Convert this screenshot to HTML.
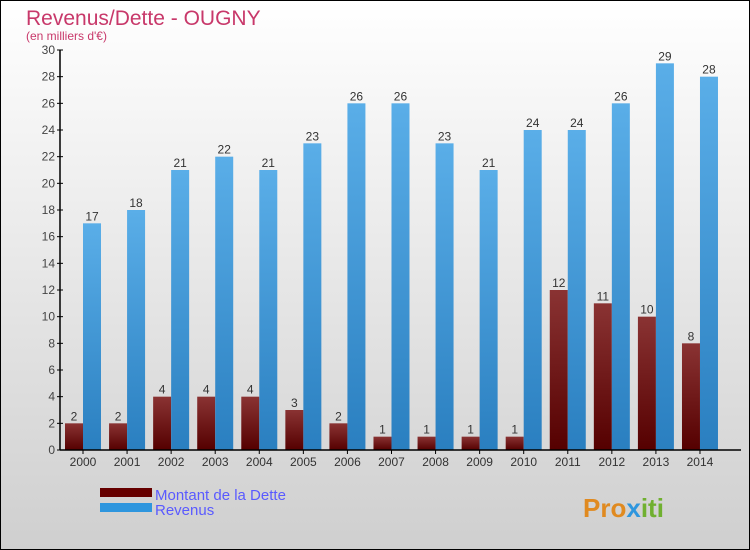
<!DOCTYPE html>
<html><head><meta charset="utf-8"><style>
body{margin:0;}
#c{width:750px;height:550px;position:relative;box-sizing:border-box;border:1px solid #000;background:linear-gradient(#ffffff,#cfcfcf);font-family:"Liberation Sans",sans-serif;overflow:hidden}
</style></head><body>
<div id="c">
<svg width="748" height="548" id="s">
<defs>
<linearGradient id="gd" x1="0" y1="0" x2="0" y2="1"><stop offset="0" stop-color="#8a3333"/><stop offset="1" stop-color="#550000"/></linearGradient>
<linearGradient id="gr" x1="0" y1="0" x2="0" y2="1"><stop offset="0" stop-color="#5aaee8"/><stop offset="1" stop-color="#2a7fc0"/></linearGradient>
</defs>
<text x="25" y="24" font-size="21" fill="#c8386a">Revenus/Dette - OUGNY</text>
<text x="25" y="39" font-size="12" fill="#c8386a">(en milliers d'€)</text>
<g id="g"></g>
<rect x="99" y="487" width="52" height="9" fill="#660000"/>
<rect x="99" y="502" width="52" height="9" fill="#2e96de"/>
<text x="154" y="499" font-size="15" fill="#5a5aff">Montant de la Dette</text>
<text x="154" y="514" font-size="15" fill="#5a5aff">Revenus</text>
<text x="582" y="516" font-size="26" font-weight="bold" fill="#e08a20">Pro<tspan fill="#2e96de">x</tspan><tspan fill="#70b030">iti</tspan></text>
</svg>
</div>
<script>
const years=["2000","2001","2002","2003","2004","2005","2006","2007","2008","2009","2010","2011","2012","2013","2014"];
const debt=[2,2,4,4,4,3,2,1,1,1,1,12,11,10,8];
const revenue=[17,18,21,22,21,23,26,26,23,21,24,24,26,29,28];
const yTicks=[0,2,4,6,8,10,12,14,16,18,20,22,24,26,28,30];
const NS="http://www.w3.org/2000/svg",g=document.getElementById('g');
const x0=59,y0=449,ppu=400/30,gw=44.07,bw=18;
const y=v=>y0-v*ppu, xc=i=>x0+23+i*gw;
function el(t,a,txt){const e=document.createElementNS(NS,t);for(const k in a)e.setAttribute(k,a[k]);if(txt!=null)e.textContent=txt;g.appendChild(e);return e;}
yTicks.forEach(t=>{const e=el('line',{x1:x0-3,x2:x0+3,y1:y(t),y2:y(t),stroke:'#000'});

const l=el('text',{x:x0-5,y:y(t)+4,'font-size':12,fill:'#444','text-anchor':'end'},t);
});
years.forEach((yr,i)=>{const c=xc(i);
const d=el('rect',{x:c-bw,y:y(debt[i]),width:bw,height:debt[i]*ppu,fill:'url(#gd)'});

const r=el('rect',{x:c,y:y(revenue[i]),width:bw,height:revenue[i]*ppu,fill:'url(#gr)'});

const dl=el('text',{x:c-bw/2,y:y(debt[i])-3,'font-size':12,fill:'#333','text-anchor':'middle'},debt[i]);

const rl=el('text',{x:c+bw/2,y:y(revenue[i])-3,'font-size':12,fill:'#333','text-anchor':'middle'},revenue[i]);

const tk=el('line',{x1:c,x2:c,y1:y0,y2:y0+4,stroke:'#000'});

const xl=el('text',{x:c,y:y0+16,'font-size':12,fill:'#333','text-anchor':'middle'},yr);
});
const ya=el('line',{x1:x0,x2:x0,y1:y(30),y2:y0,stroke:'#000','stroke-width':1.5});

const xa=el('line',{x1:x0,x2:740,y1:y0,y2:y0,stroke:'#000','stroke-width':1.5});

</script>
</body></html>
